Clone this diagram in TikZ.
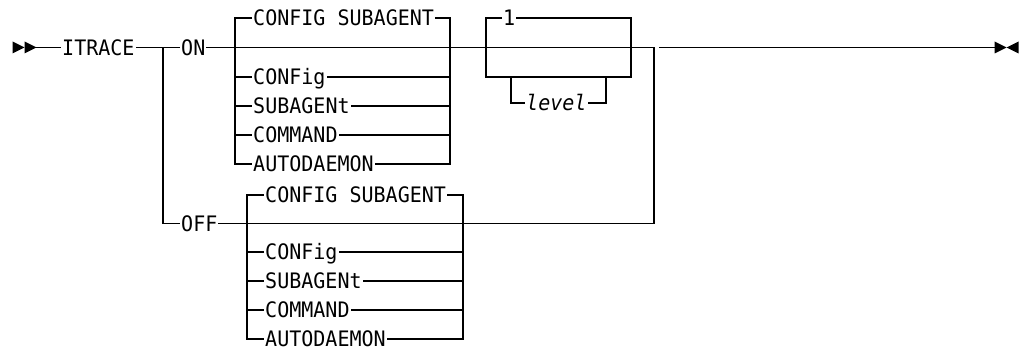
\documentclass[tikz,border=0pt]{standalone}
\usepackage{fontspec}
\newfontfamily\rrfont[FakeStretch=0.94]{DejaVu Sans Mono}
\begin{document}
\begin{tikzpicture}[x=1pt,y=-1pt,
  rr/.style={line width=1.25pt, line join=miter, line cap=rect},
  kw/.style={font=\rrfont\fontsize{21.3}{21.3}\selectfont, inner xsep=1.5pt, inner ysep=0pt,
             text height=15.5pt, text depth=0pt, anchor=west, text=black},
  var/.style={kw, font=\rrfont\itshape\fontsize{21.3}{21.3}\selectfont},
  tip/.style={fill=black, draw=none}]
\useasboundingbox (0,0) rectangle (1022,350);
% main row
\def\my{47.5}
\def\oy{223.3}
\coordinate (start) at (36,\my);
\node[kw] (itrace) at (60.5,\my) {ITRACE};
\coordinate (fork) at (163,\my);
\node[kw] (on) at (179.5,\my) {ON};
\coordinate (onL) at (235,\my);
\coordinate (onR) at (450,\my);
\coordinate (lvL) at (486,\my);
\coordinate (lvR) at (631,\my);
\coordinate (join) at (654,\my);
\coordinate (tail) at (660,\my);
\coordinate (stop) at (995,\my);
% start/end marks
\fill[tip] (12.5,41.5) -- (24.5,\my) -- (12.5,53.5) -- cycle;
\fill[tip] (24.5,41.5) -- (36.5,\my) -- (24.5,53.5) -- cycle;
\fill[tip] (994.5,41.5) -- (1006.5,\my) -- (994.5,53.5) -- cycle;
\fill[tip] (1018.5,41.5) -- (1006.5,\my) -- (1018.5,53.5) -- cycle;
\draw[rr] (start) -- (itrace.west);
\draw[rr] (itrace.east) -- (fork) -- (on.west);
\draw[rr] (on.east) -- (onL) -- (onR) -- (lvL) -- (lvR) -- (join);
\draw[rr] (tail) -- (stop);
\draw[line width=1.8pt] (672,\my) -- (683,\my);
% ON choice box
\node[kw] (onCS) at (251.5,18) {CONFIG SUBAGENT};
\node[kw] (onCF) at (251.5,77) {CONFig};
\node[kw] (onSA) at (251.5,106) {SUBAGENt};
\node[kw] (onCM) at (251.5,135) {COMMAND};
\node[kw] (onAD) at (251.5,164) {AUTODAEMON};
\draw[rr] (onL) -- (235,18) -- (onCS.west);
\draw[rr] (onCS.east) -- (450,18) -- (onR);
\draw[rr] (235,18) -- (235,164) -- (onAD.west);
\draw[rr] (onAD.east) -- (450,164) -- (450,18);
\draw[rr] (235,77) -- (onCF.west); \draw[rr] (onCF.east) -- (450,77);
\draw[rr] (235,106) -- (onSA.west); \draw[rr] (onSA.east) -- (450,106);
\draw[rr] (235,135) -- (onCM.west); \draw[rr] (onCM.east) -- (450,135);
% level box
\node[kw] (one) at (501.5,18) {1};
\node[var] (level) at (524.5,103) {level};
\draw[rr] (lvL) -- (486,18) -- (one.west);
\draw[rr] (one.east) -- (631,18) -- (lvR);
\draw[rr] (lvL) -- (486,77) -- (631,77) -- (lvR);
\draw[rr] (511,77) -- (511,103) -- (level.west);
\draw[rr] (level.east) -- (606,103) -- (606,77);
% OFF branch
\node[kw] (off) at (179.5,\oy) {OFF};
\coordinate (offL) at (247,\oy);
\coordinate (offR) at (463,\oy);
\draw[rr] (fork) -- (163,\oy) -- (off.west);
\draw[rr] (off.east) -- (offL) -- (offR) -- (654,\oy) -- (join);
\node[kw] (offCS) at (263.5,195) {CONFIG SUBAGENT};
\node[kw] (offCF) at (263.5,252) {CONFig};
\node[kw] (offSA) at (263.5,281) {SUBAGENt};
\node[kw] (offCM) at (263.5,310) {COMMAND};
\node[kw] (offAD) at (263.5,339) {AUTODAEMON};
\draw[rr] (offL) -- (247,195) -- (offCS.west);
\draw[rr] (offCS.east) -- (463,195) -- (offR);
\draw[rr] (247,195) -- (247,339) -- (offAD.west);
\draw[rr] (offAD.east) -- (463,339) -- (463,195);
\draw[rr] (247,252) -- (offCF.west); \draw[rr] (offCF.east) -- (463,252);
\draw[rr] (247,281) -- (offSA.west); \draw[rr] (offSA.east) -- (463,281);
\draw[rr] (247,310) -- (offCM.west); \draw[rr] (offCM.east) -- (463,310);
\end{tikzpicture}
\end{document}
